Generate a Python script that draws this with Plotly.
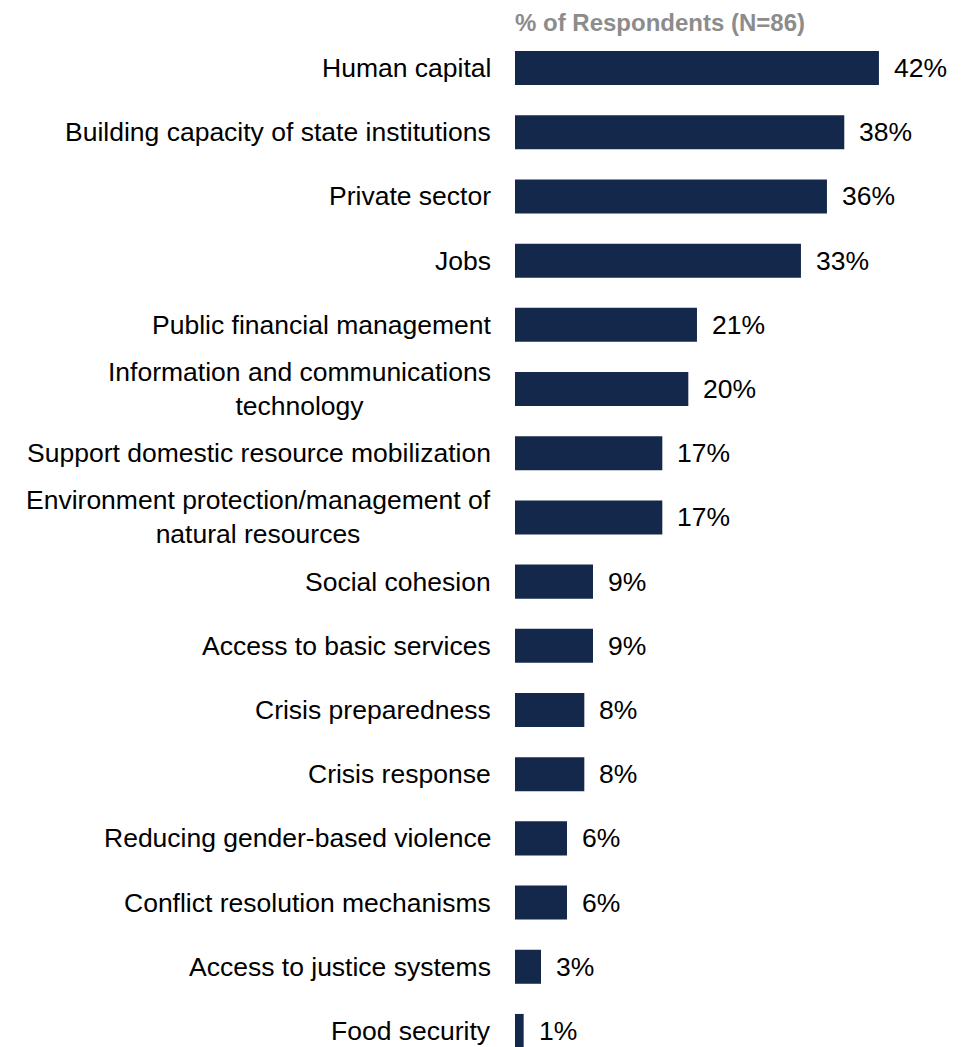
import plotly.graph_objects as go

categories = [
    "Human capital",
    "Building capacity of state institutions",
    "Private sector",
    "Jobs",
    "Public financial management",
    "Information and communications<br>technology",
    "Support domestic resource mobilization",
    "Environment protection/management of<br>natural resources",
    "Social cohesion",
    "Access to basic services",
    "Crisis preparedness",
    "Crisis response",
    "Reducing gender-based violence",
    "Conflict resolution mechanisms",
    "Access to justice systems",
    "Food security",
]
values = [42, 38, 36, 33, 21, 20, 17, 17, 9, 9, 8, 8, 6, 6, 3, 1]
value_labels = [f"{v}%" for v in values]
header = "% of Respondents (N=86)"

BAR = "#14284B"
FONT = "Liberation Sans, Arial, sans-serif"

fig = go.Figure(
    go.Bar(
        x=values,
        y=categories,
        orientation="h",
        marker=dict(color=BAR, line=dict(width=0)),
        width=0.53,
        hoverinfo="skip",
    )
)

annotations = []
for cat, v, lab in zip(categories, values, value_labels):
    # value label just past the end of each bar
    annotations.append(dict(
        x=v, y=cat, xref="x", yref="y", text=lab, showarrow=False,
        xanchor="left", xshift=13, font=dict(family=FONT, size=26.5, color="#000000"),
    ))
    # category label, centred lines, right edge next to the axis
    annotations.append(dict(
        x=0, y=cat, xref="paper", yref="y", text=cat, showarrow=False,
        xanchor="right", xshift=-22, align="center",
        font=dict(family=FONT, size=26.5, color="#000000"),
    ))

# column header above the bars
annotations.append(dict(
    x=0, y=1, xref="paper", yref="paper", yanchor="middle", yshift=14,
    text=f"<b>{header}</b>", showarrow=False, xanchor="left", xshift=-2,
    font=dict(family=FONT, size=24, color="#8C8C8C"),
))

fig.update_layout(
    width=977, height=1047,
    margin=dict(l=515, r=27, t=36, b=0),
    paper_bgcolor="white", plot_bgcolor="white",
    showlegend=False,
    annotations=annotations,
    xaxis=dict(range=[0, 50.2], visible=False),
    yaxis=dict(range=[15.25, -0.5], showticklabels=False, showgrid=False,
               zeroline=False, showline=False, ticks=""),
)

fig.write_html("out.html")
